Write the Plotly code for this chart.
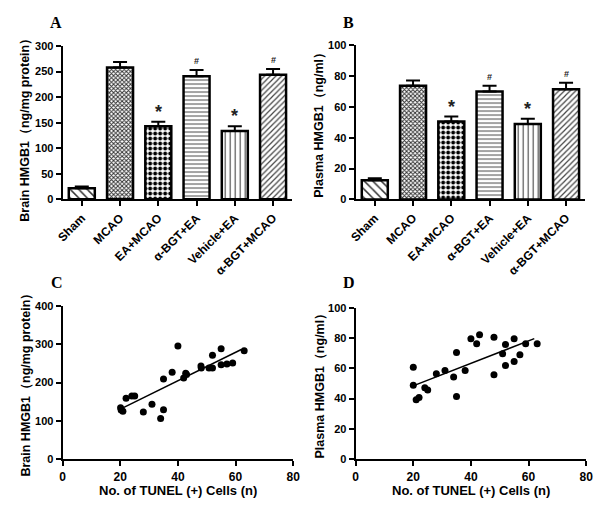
import plotly.graph_objects as go

W, H = 600, 514

groups = ["Sham", "MCAO", "EA+MCAO", "α-BGT+EA", "Vehicle+EA", "α-BGT+MCAO"]
brain_mean = [22, 258, 143, 241, 134, 244]
brain_err = [3, 11, 9, 12, 9, 11]
plasma_mean = [12.4, 73.7, 50.5, 69.9, 48.8, 71.4]
plasma_err = [1.3, 3.3, 3.2, 3.8, 3.4, 4.2]
marks = ["", "", "*", "#", "*", "#"]

tunel_c = [20.1, 20.3, 20.9, 22, 24, 25, 28, 31, 34, 35, 35, 38, 40, 42, 42.7, 43,
           48, 48.1, 50.8, 52, 52, 55, 55, 57, 59, 63]
brain_c = [134, 128, 125, 159, 165, 165, 123, 143, 106, 129, 209, 227, 295, 212, 224, 221,
           243, 238, 238, 238, 271, 288, 246, 248, 251, 283]
fit_c_x = [20.9, 62]
fit_c_y = [134, 286]

tunel_d = [20, 20, 21, 22, 24, 25, 28, 31, 34, 35, 35, 38, 40, 42, 43, 48, 48, 51, 52, 52,
           55, 55, 57, 59, 63]
plasma_d = [60.7, 48.9, 39.3, 40.8, 47.2, 45.7, 56.4, 58.6, 54.3, 70.4, 41.4, 58.6, 79.6,
            76.2, 82.2, 80.5, 55.8, 69.7, 75.8, 61.8, 79.6, 64.6, 68.9, 76.2, 76.2]
fit_d_x = [20.6, 62]
fit_d_y = [48.9, 79.6]

def px(x):
    return x / W

def py(y):
    return 1 - y / H

FONT = "Liberation Sans, Arial, sans-serif"
SERIF = "Liberation Serif, Times New Roman, serif"

shapes_pat = ["\\", "x", ".", "-", "|", "/"]
pat_size = [6, 3, 5, 4, 5, 4]
pat_sol = [0.25, 0.55, 0.5, 0.3, 0.22, 0.3]
pat_fg = ["#333333", "#333333", "black", "#666666", "#444444", "#444444"]

fig = go.Figure()

def bar_trace(vals, errs, xa, ya):
    return go.Bar(
        x=groups, y=vals, xaxis=xa, yaxis=ya, width=0.68,
        marker=dict(color="white", line=dict(color="black", width=2.5),
                    pattern=dict(shape=shapes_pat, size=pat_size, solidity=pat_sol,
                                 fgcolor=pat_fg, bgcolor="white", fillmode="replace")),
        error_y=dict(type="data", symmetric=False, array=errs, arrayminus=[0] * len(errs),
                     color="black", thickness=2, width=7),
        showlegend=False, hoverinfo="skip")

fig.add_trace(bar_trace(brain_mean, brain_err, "x", "y"))
fig.add_trace(bar_trace(plasma_mean, plasma_err, "x2", "y2"))

for xs, ys, fx, fy, xa, ya in [(tunel_c, brain_c, fit_c_x, fit_c_y, "x3", "y3"),
                               (tunel_d, plasma_d, fit_d_x, fit_d_y, "x4", "y4")]:
    fig.add_trace(go.Scatter(x=xs, y=ys, mode="markers", xaxis=xa, yaxis=ya,
                             marker=dict(color="black", size=7), showlegend=False))
    fig.add_trace(go.Scatter(x=fx, y=fy, mode="lines", xaxis=xa, yaxis=ya,
                             line=dict(color="black", width=1.5), showlegend=False))

xtickfont = dict(family=FONT, size=12, color="black", weight="bold")
ytickfont = dict(family=FONT, size=11, color="black", weight="bold")
axis_common = dict(showline=True, linecolor="black", linewidth=2, ticks="outside",
                   ticklen=5, tickwidth=2, tickcolor="black", showgrid=False,
                   zeroline=False)
xa_c = dict(tickfont=xtickfont, **axis_common)
ya_c = dict(tickfont=ytickfont, **axis_common)

layout = dict(
    width=W, height=H, margin=dict(l=0, r=0, t=0, b=0),
    paper_bgcolor="white", plot_bgcolor="white", bargap=0.3,
    xaxis=dict(domain=[px(57), px(292)], anchor="y", range=[-0.5, 5.5], tickangle=-45,
               type="category", **xa_c),
    yaxis=dict(domain=[py(198), py(41)], anchor="x", range=[0, 300], dtick=50, **ya_c),
    xaxis2=dict(domain=[px(357), px(592)], anchor="y2", range=[-0.5, 5.5], tickangle=-45,
                type="category", **xa_c),
    yaxis2=dict(domain=[py(198), py(40)], anchor="x2", range=[0, 100], dtick=20, **ya_c),
    xaxis3=dict(domain=[px(57), px(293)], anchor="y3", range=[0, 80], dtick=20, **xa_c),
    yaxis3=dict(domain=[py(464), py(307)], anchor="x3", range=[0, 400], dtick=100, **ya_c),
    xaxis4=dict(domain=[px(357), px(593)], anchor="y4", range=[0, 80], dtick=20, **xa_c),
    yaxis4=dict(domain=[py(464), py(309)], anchor="x4", range=[0, 100], dtick=20, **ya_c),
)
fig.update_layout(**layout)

ann = []
titlefont = dict(family=FONT, size=12.5, color="black", weight="bold")
xtitlefont = dict(family=FONT, size=13, color="black", weight="bold")
letterfont = dict(family=SERIF, size=16, color="black", weight="bold")

def pann(text, x, y, font, angle=0):
    return dict(text=text, x=px(x), y=py(y), xref="paper", yref="paper", textangle=angle,
                xanchor="center", yanchor="middle", showarrow=False, font=font)

for t, x, y in [("A", 50, 17), ("B", 350, 17), ("C", 51, 283), ("D", 350, 283)]:
    ann.append(pann(t, x, y, letterfont))
for t, x, y in [("Brain HMGB1（ng/mg protein）", 19, 124),
                ("Plasma HMGB1（ng/ml）", 320, 119),
                ("Brain HMGB1（ng/mg protein）", 19, 385),
                ("Plasma HMGB1（ng/ml）", 320, 386)]:
    ann.append(pann(t, x, y, titlefont, -90))
for x in [175, 475]:
    ann.append(pann("No. of TUNEL (+) Cells (n)", x, 496, xtitlefont))

for xa, ya, vals, errs in [("x", "y", brain_mean, brain_err), ("x2", "y2", plasma_mean, plasma_err)]:
    for g, v, e, m in zip(groups, vals, errs, marks):
        if not m:
            continue
        big = m == "*"
        ann.append(dict(text=m, x=g, y=v + e, xref=xa, yref=ya, showarrow=False,
                        yanchor="bottom", yshift=-2 if big else 2,
                        font=dict(family=FONT, size=18 if big else 9, color="#222",
                                  weight="bold")))
fig.update_layout(annotations=ann)

fig.write_html("out.html", config={"displayModeBar": False},
               post_script="document.body.style.margin='0';document.body.style.overflow='hidden';")
